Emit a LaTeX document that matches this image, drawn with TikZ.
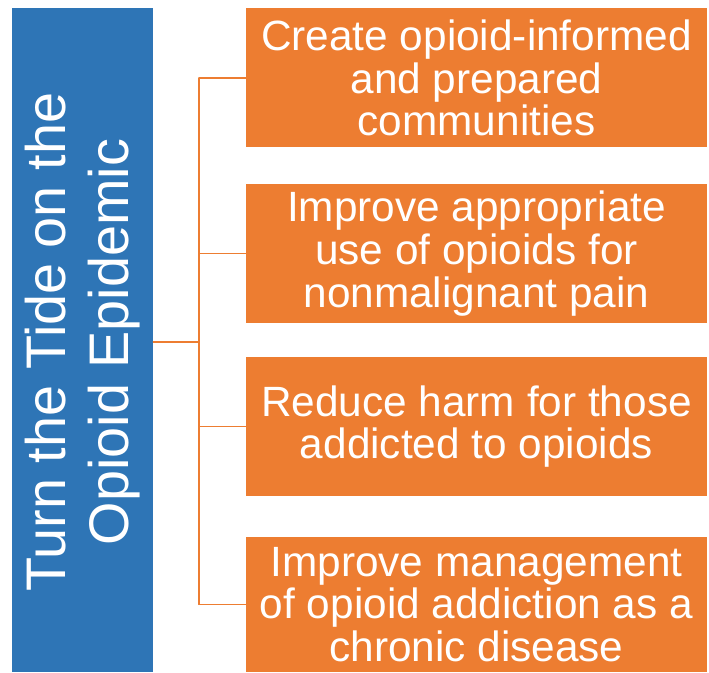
\documentclass[tikz,border=0pt]{standalone}
\usepackage{fontspec}
\setmainfont{Liberation Sans}
\usepackage{tikz}
\definecolor{topicblue}{HTML}{2E75B6}
\definecolor{goalorange}{HTML}{ED7D31}
\tikzset{
  topicbox/.style={fill=topicblue,text=white,minimum width=141bp,minimum height=664bp,inner sep=0pt},
  goalbox/.style={fill=goalorange,text=white,minimum width=461bp,minimum height=139bp,inner sep=0pt,
    align=center,font=\fontsize{42.5}{43}\selectfont},
  link/.style={draw=goalorange,line width=1.2bp}
}
\begin{document}
\begin{tikzpicture}[line cap=round,line join=round,x=1bp,y=1bp]
\useasboundingbox (0,0) rectangle (709,673);
%
\node[topicbox] (topic) at (82.5,333) {};
\node[rotate=90,text=white,align=center,font=\fontsize{56}{64}\selectfont] (topictext) at (82.5,331) {Turn the Tide on the\\Opioid Epidemic};
%
\node[goalbox] (g1) at (476.5,595) {Create opioid-informed\\and prepared\\communities};
\node[goalbox] (g2) at (476.5,419.5) {Improve appropriate\\use of opioids for\\nonmalignant pain};
\node[goalbox] (g3) at (476.5,246.5) {Reduce harm for those\\addicted to opioids};
\node[goalbox,minimum height=135bp] (g4) at (476.5,68.5) {Improve management\\of opioid addiction as a\\chronic disease};
%
\draw[link] (topic.east |- 0,331) -- (199,331) coordinate (hub);
\draw[link] (hub |- g1.west) -- (hub |- g4.west);
\foreach \g in {g1,g2,g3,g4}
  \draw[link] (hub |- \g.west) -- (\g.west);
\end{tikzpicture}
\end{document}
